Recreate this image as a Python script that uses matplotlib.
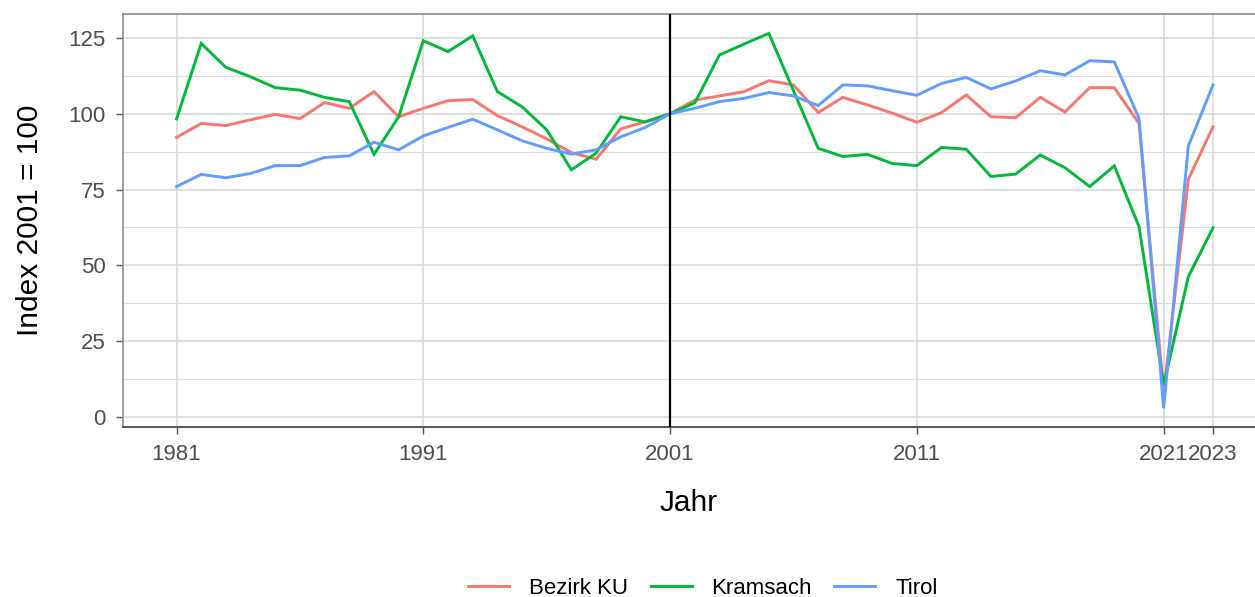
import matplotlib
matplotlib.use("Agg")
import matplotlib.pyplot as plt
from matplotlib.ticker import FixedLocator

plt.rcParams['font.family'] = ['Liberation Sans', 'DejaVu Sans']

years = list(range(1981, 2024))

bezirk_ku = [92.2, 96.8, 96.1, 98.0, 99.8, 98.4, 103.7, 101.8, 107.3, 99.0,
             101.8, 104.3, 104.7, 99.4, 95.7, 91.7, 87.2, 85.0, 95.0, 97.4,
             100.0, 104.5, 105.9, 107.3, 110.9, 109.5, 100.4, 105.4, 102.9, 100.2,
             97.2, 100.4, 106.2, 99.0, 98.7, 105.4, 100.6, 108.6, 108.6, 96.8,
             8.0, 78.4, 95.7]

kramsach = [98.3, 123.2, 115.3, 112.2, 108.6, 107.8, 105.4, 104.0, 86.6, 99.0,
            124.1, 120.5, 125.7, 107.3, 102.3, 94.7, 81.5, 87.0, 99.0, 97.3,
            100.0, 103.6, 119.4, 123.0, 126.5, 107.6, 88.6, 85.9, 86.6, 83.6,
            82.9, 88.9, 88.3, 79.3, 80.1, 86.4, 82.2, 76.0, 82.8, 62.8,
            10.5, 46.3, 62.4]

tirol = [76.0, 80.0, 78.9, 80.3, 82.9, 82.9, 85.6, 86.1, 90.6, 88.1,
         92.7, 95.5, 98.2, 94.7, 91.1, 88.6, 86.7, 88.1, 92.4, 95.5,
         100.0, 101.8, 104.0, 105.1, 107.0, 105.9, 102.7, 109.5, 109.2, 107.6,
         106.1, 110.0, 112.0, 108.2, 110.8, 114.2, 112.8, 117.5, 117.1, 98.5,
         2.9, 89.4, 109.5]

series_names = ["Bezirk KU", "Kramsach", "Tirol"]
series_colors = ["#F8766D", "#00BA38", "#619CFF"]
x_ticks = [1981, 1991, 2001, 2011, 2021, 2023]
y_ticks = [0, 25, 50, 75, 100, 125]

W, H = 1255, 597
fig = plt.figure(figsize=(W / 100, H / 100), dpi=100)
left, right, top, bottom = 123, 1255, 14, 427
ax = fig.add_axes([left / W, 1 - bottom / H, (right - left) / W, (bottom - top) / H])

for vals, name, col in zip([bezirk_ku, kramsach, tirol], series_names, series_colors):
    ax.plot(years, vals, color=col, lw=2.1, label=name, zorder=3, solid_joinstyle='miter')

ax.axvline(2001, color='black', lw=1.6, zorder=4)

ax.set_xlim(1978.83, 2024.70)
ax.set_ylim(-3.3, 132.9)
ax.xaxis.set_major_locator(FixedLocator(x_ticks))
ax.yaxis.set_major_locator(FixedLocator(y_ticks))
ax.yaxis.set_minor_locator(FixedLocator([12.5, 37.5, 62.5, 87.5, 112.5]))
ax.set_xticklabels([str(t) for t in x_ticks])

ax.grid(which='major', color='#D6D6D6', lw=1.1, zorder=0)
ax.grid(which='minor', axis='y', color='#DEDEDE', lw=0.8, zorder=0)
ax.set_axisbelow(True)

for s in ['top', 'left']:
    ax.spines[s].set_color('#8C8C8C')
    ax.spines[s].set_linewidth(1.2)
ax.spines['bottom'].set_color('#555555')
ax.spines['bottom'].set_linewidth(1.4)
ax.spines['right'].set_visible(False)

ax.tick_params(axis='both', which='major', direction='out', length=5, width=1.0,
               colors='#555555', labelsize=16, labelcolor='#4D4D4D', pad=7.5)
ax.tick_params(axis='y', which='minor', length=0)

ax.set_xlabel("Jahr", fontsize=21.5, color='black', labelpad=17)
ax.set_ylabel("Index 2001 = 100", fontsize=21.5, color='black', labelpad=17.5)

handles, labels = ax.get_legend_handles_labels()
leg = fig.legend(handles, labels, loc='center', ncol=3, frameon=False,
                 bbox_to_anchor=(703 / W, 1 - 588 / H), fontsize=16,
                 handlelength=1.85, handletextpad=0.9, columnspacing=1.0)

fig.savefig("out.png", dpi=100)
